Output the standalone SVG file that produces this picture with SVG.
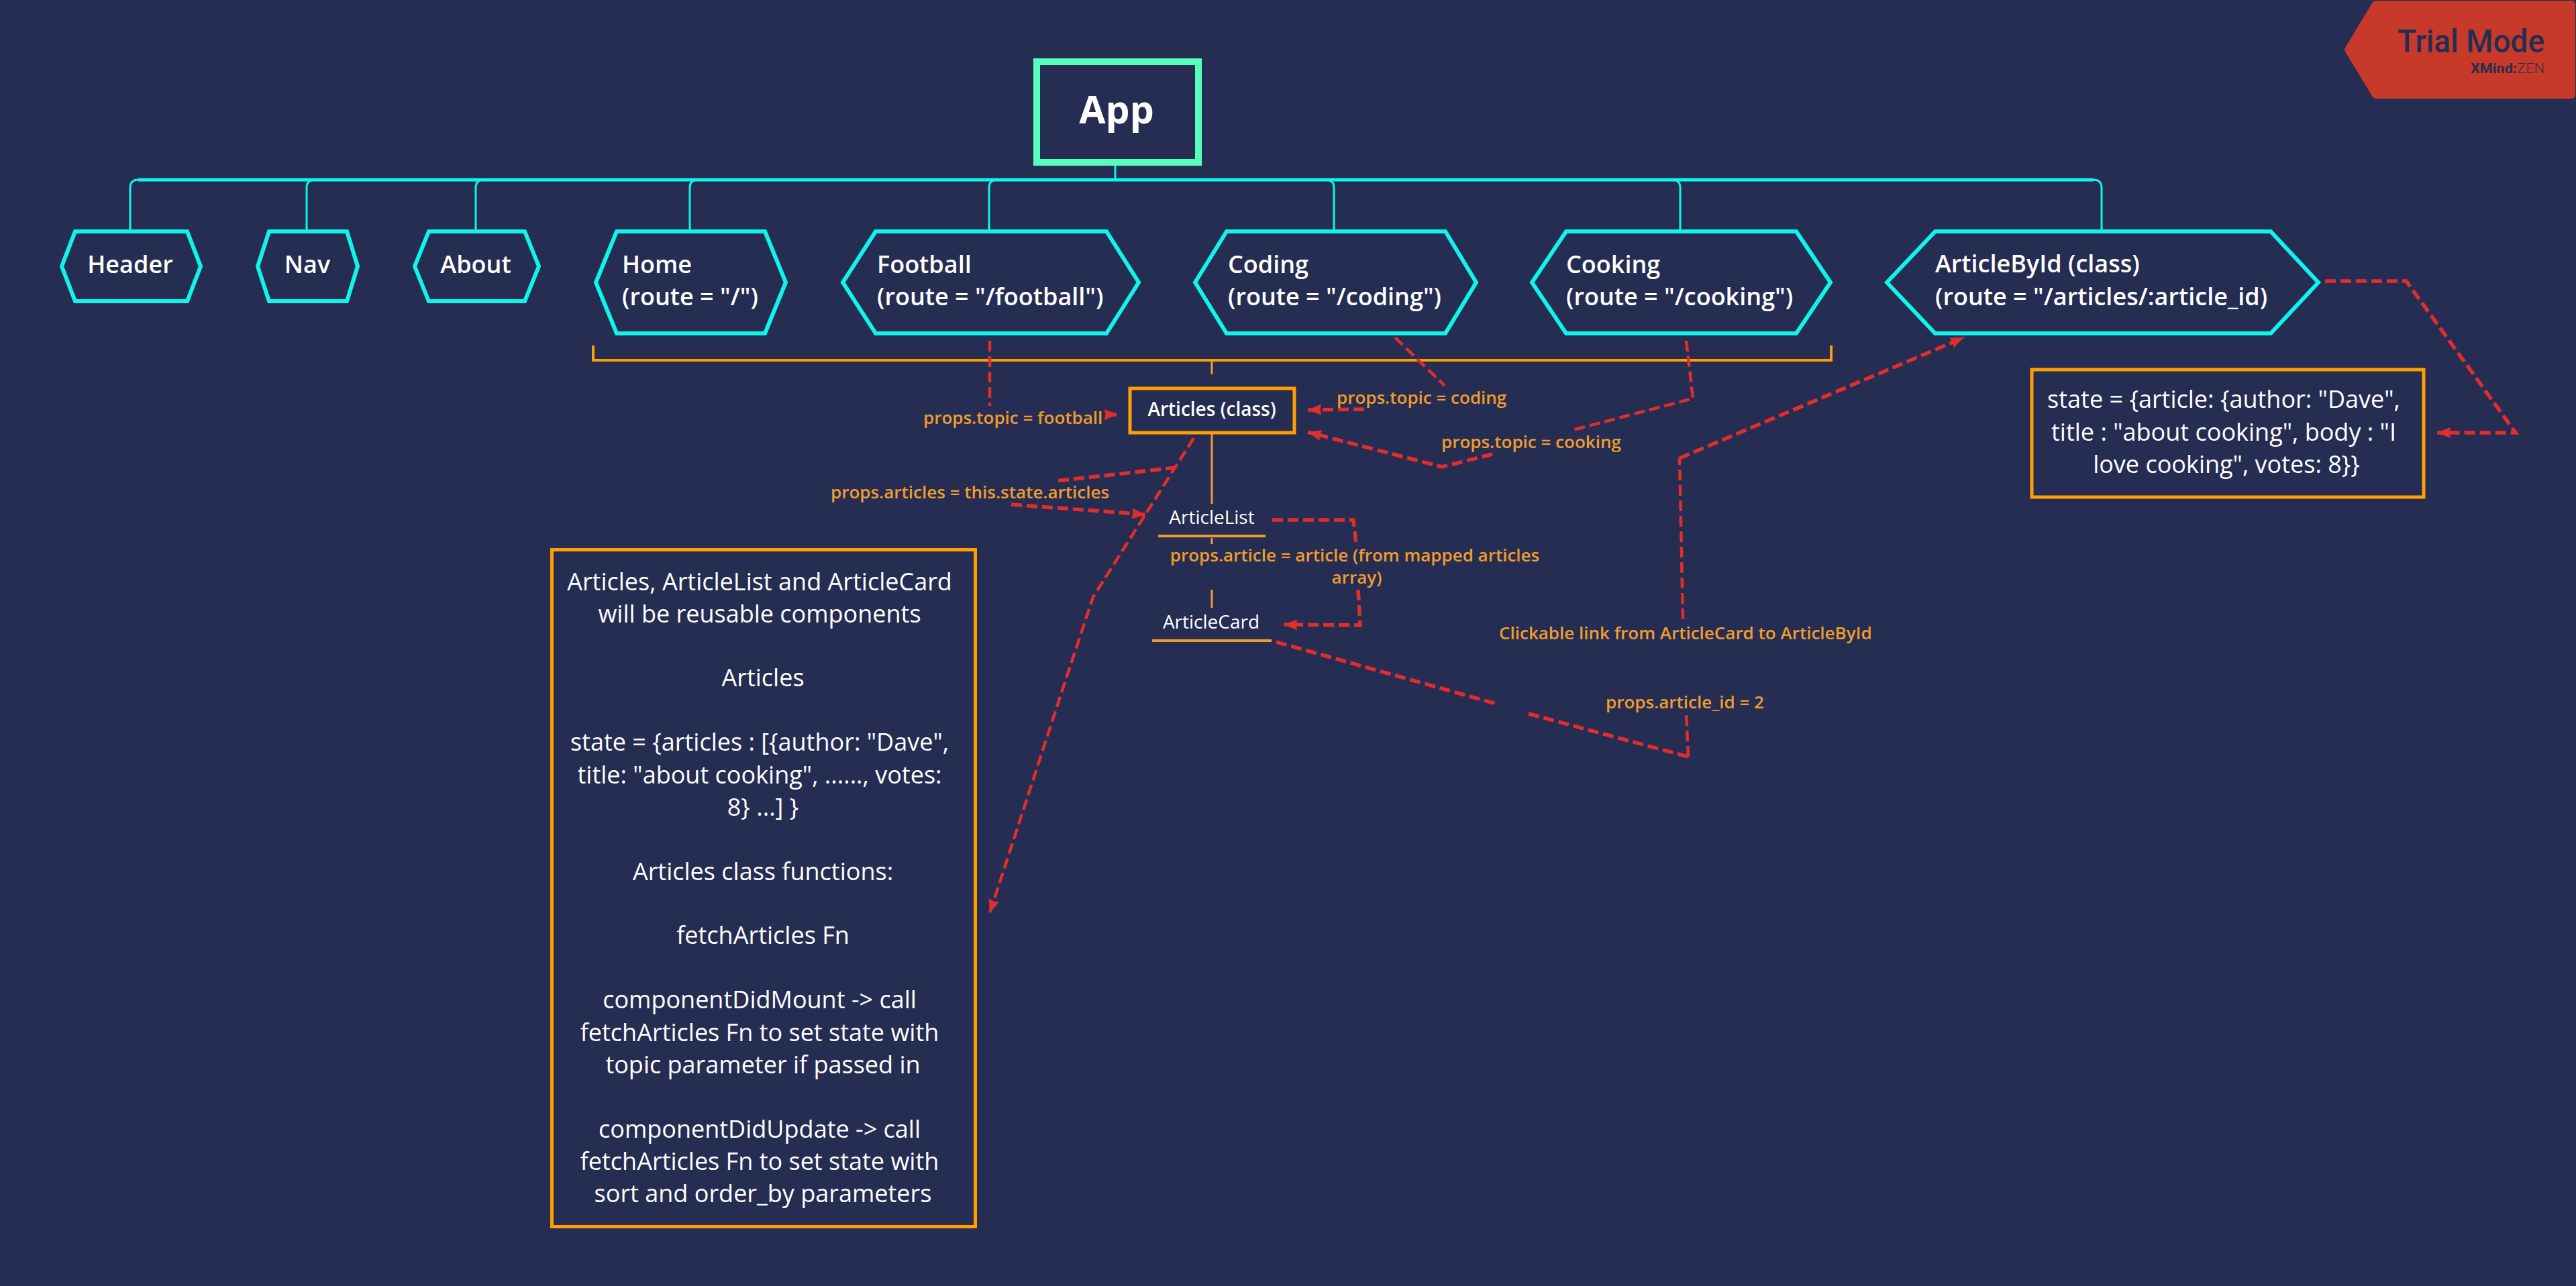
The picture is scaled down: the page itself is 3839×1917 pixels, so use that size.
<svg xmlns="http://www.w3.org/2000/svg" width="3839" height="1917" viewBox="0 0 3839 1917">
<style>
text{font-family:"Open Sans","Noto Sans","Liberation Sans",sans-serif;fill:#fff}
.hex{fill:#262d52;stroke:#10f5ea;stroke-width:6}
.t{font-size:36px;font-weight:600}
.c{text-anchor:middle}
.bus{fill:none;stroke:#10f5ea;stroke-width:3}
.box{fill:#262d52;stroke:#ffa000}
.n{font-size:36px;text-anchor:middle}
.l{font-size:26px;font-weight:600;fill:#f09c2c}
.o{fill:none;stroke:#f09c2c;stroke-width:3}
.u{fill:none;stroke:#f09c2c;stroke-width:4}
.s{font-size:28px}
.r{fill:none;stroke:#e22d2d;stroke-width:5.500;stroke-dasharray:16 7}
.r2{fill:none;stroke:#e22d2d;stroke-width:4.500;stroke-dasharray:16 7}
.tr{font-family:Roboto,Inter,sans-serif;fill:#262d52;text-anchor:end}
</style>
<defs><marker id="ah" markerUnits="userSpaceOnUse" markerWidth="22" markerHeight="20" refX="20" refY="10" orient="auto"><path d="M0,2 L20,10 L0,18 L1.500,10 Z" fill="#e22d2d"/></marker></defs>
<rect id="bg" width="3839" height="1917" fill="#262d52"/>
<g id="connectors">
<path class="bus" d="M194,342V280Q194,268 206,268H3120Q3132,268 3132,280V342"/>
<path class="bus" style="stroke-width:5" d="M206,268H3120"/>
<path class="bus" d="M1662,247V268M457,342V280Q457,268 469,268M709,342V280Q709,268 721,268M1028,342V280Q1028,268 1040,268M1474,342V280Q1474,268 1486,268M1988,342V280Q1988,268 1976,268M2504,342V280Q2504,268 2492,268"/>
<path class="o" style="stroke-width:4;stroke:#ffa000" d="M884,515V537H2729V515"/>
<path class="o" d="M1806,537V558M1806,647V751M1806,802V811M1806,879V906"/>
<path class="r2" d="M1475,508V605"/>
<path class="r" marker-end="url(#ah)" d="M1648,618H1666"/>
<path class="r2" d="M2079,503L2153,575"/>
<path class="r" marker-end="url(#ah)" d="M2033,610L1949,611"/>
<path class="r2" d="M2513,508L2523,594L2340,642"/>
<path class="r" marker-end="url(#ah)" d="M2224,677L2149,696L1949,644"/>
<path class="r2" marker-end="url(#ah)" d="M1779,653L1629,890L1586,1020L1475,1361"/>
<path class="r" d="M1753,697L1573,717"/>
<path class="r" marker-end="url(#ah)" d="M1507,752L1707,767"/>
<path class="r" d="M1896,775H2017L2021,811"/>
<path class="r" marker-end="url(#ah)" d="M2024,879L2027,932L1913,931"/>
<path class="r" d="M1902,957L2233,1050"/>
<path class="r" d="M2278,1064L2516,1128"/>
<path class="r2" d="M2516,1128L2513,1064"/>
<path class="r2" d="M2508,923L2503,683"/>
<path class="r" marker-end="url(#ah)" d="M2503,683L2927,503"/>
<path class="r" marker-end="url(#ah)" d="M3465,419H3586L3749,645H3632"/>
</g>
<g id="app"><rect x="1545" y="92" width="241" height="150" fill="#262d52" stroke="#56ffbe" stroke-width="10"/><text x="1664" y="184" class="c" font-size="57" font-weight="700">App</text></g>
<g id="header"><path class="hex" d="M112,345H279L299,397L279,449H112L92,397Z"/><text x="194" y="407" class="t c">Header</text></g>
<g id="nav"><path class="hex" d="M401,345H517L533,397L517,449H401L384,397Z"/><text x="458" y="407" class="t c">Nav</text></g>
<g id="about"><path class="hex" d="M639,345H782L803,397L782,449H639L618,397Z"/><text x="709" y="407" class="t c">About</text></g>
<g id="home"><path class="hex" d="M919,345H1140L1171,421L1140,497H919L888,421Z"/><text x="927" y="407" class="t">Home</text><text x="927" y="455" class="t">(route = "/")</text></g>
<g id="football"><path class="hex" d="M1305,345H1649L1697,421L1649,497H1305L1256,421Z"/><text x="1307" y="407" class="t">Football</text><text x="1307" y="455" class="t">(route = "/football")</text></g>
<g id="coding"><path class="hex" d="M1828,345H2154L2200,421L2154,497H1828L1781,421Z"/><text x="1830" y="407" class="t">Coding</text><text x="1830" y="455" class="t">(route = "/coding")</text></g>
<g id="cooking"><path class="hex" d="M2334,345H2677L2728,421L2677,497H2334L2283,421Z"/><text x="2334" y="407" class="t">Cooking</text><text x="2334" y="455" class="t">(route = "/cooking")</text></g>
<g id="articlebyid"><path class="hex" d="M2884,345H3384L3455,421L3384,497H2884L2812,421Z"/><text x="2884" y="406" class="t">ArticleById (class)</text><text x="2884" y="455" class="t">(route = "/articles/:article_id)</text></g>
<g id="articles"><rect x="1684" y="579" width="245" height="66" class="box" stroke-width="5"/><text x="1806" y="620" class="c" font-size="28" font-weight="600">Articles (class)</text></g>
<g id="articlelist"><path class="u" d="M1726,799H1886"/><text x="1806" y="781" class="c s">ArticleList</text></g>
<g id="articlecard"><path class="u" d="M1717,955H1895"/><text x="1805" y="937" class="c s">ArticleCard</text></g>
<g id="state-note"><rect x="3028" y="551" width="584" height="190" class="box" stroke-width="5"/>
<text x="3314" y="608" class="n">state = {article: {author: "Dave",</text><text x="3314" y="657" class="n">title : "about cooking", body : "I</text><text x="3318" y="705" class="n">love cooking", votes: 8}}</text></g>
<g id="articles-note"><rect x="822.500" y="819.500" width="631" height="1009" class="box" stroke-width="5"/>
<text x="1132" y="880" class="n">Articles, ArticleList and ArticleCard</text>
<text x="1132" y="928" class="n">will be reusable components</text>
<text x="1137" y="1023" class="n">Articles</text>
<text x="1132" y="1119" class="n">state = {articles : [{author: "Dave",</text>
<text x="1132" y="1168" class="n">title: "about cooking", ......, votes:</text>
<text x="1137" y="1216" class="n">8} ...] }</text>
<text x="1137" y="1312" class="n">Articles class functions:</text>
<text x="1137" y="1407" class="n">fetchArticles Fn</text>
<text x="1132" y="1503" class="n">componentDidMount -> call</text>
<text x="1132" y="1552" class="n">fetchArticles Fn to set state with</text>
<text x="1137" y="1600" class="n">topic parameter if passed in</text>
<text x="1132" y="1696" class="n">componentDidUpdate -> call</text>
<text x="1132" y="1744" class="n">fetchArticles Fn to set state with</text>
<text x="1137" y="1792" class="n">sort and order_by parameters</text></g>
<g id="labels">
<text x="1376" y="632" class="l">props.topic = football</text>
<text x="1992" y="602" class="l">props.topic = coding</text>
<text x="2148" y="668" class="l">props.topic = cooking</text>
<text x="1238" y="743" class="l">props.articles = this.state.articles</text>
<text x="2019" y="837" class="l c">props.article = article (from mapped articles</text>
<text x="2022" y="870" class="l c">array)</text>
<text x="2234" y="953" class="l">Clickable link from ArticleCard to ArticleById</text>
<text x="2393" y="1056" class="l">props.article_id = 2</text>
</g>
<g id="trial"><path d="M3541,1H3832Q3838,1 3838,7V141Q3838,147 3832,147H3541Q3537,147 3535,143L3495,77Q3493,74 3495,71L3535,5Q3537,1 3541,1Z" fill="#c73a2a"/>
<text x="3792" y="78" class="tr" font-size="48" font-weight="500" textLength="219" lengthAdjust="spacingAndGlyphs">Trial Mode</text>
<text x="3792" y="109" class="tr" font-size="20" font-weight="700" textLength="110" lengthAdjust="spacingAndGlyphs">XMind:<tspan font-weight="300">ZEN</tspan></text></g>
</svg>
